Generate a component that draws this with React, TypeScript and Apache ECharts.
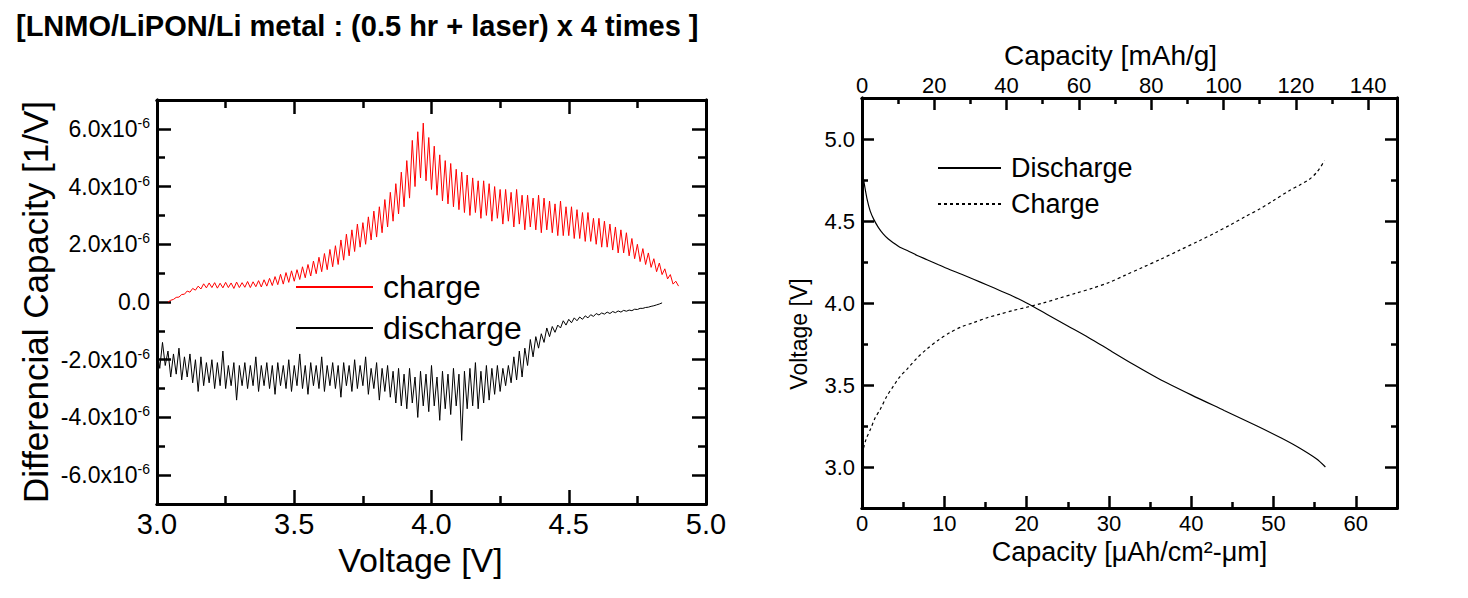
import React, { useEffect, useRef } from "react";
import * as echarts from "echarts";

// ---------- Left chart: differential capacity (values in units of 1e-6 1/V) ----------
const chargeV0 = 3.04;
const dischargeV0 = 3.0;
const dvStep = 0.01;
const chargeDQ = [
  0.00, 0.06, 0.09, 0.16, 0.17, 0.26, 0.27, 0.38, 0.34, 0.47,
  0.41, 0.55, 0.45, 0.63, 0.49, 0.66, 0.50, 0.67, 0.48, 0.65,
  0.49, 0.68, 0.50, 0.66, 0.47, 0.69, 0.50, 0.67, 0.51, 0.71,
  0.50, 0.70, 0.53, 0.74, 0.52, 0.77, 0.55, 0.82, 0.57, 0.88,
  0.60, 0.96, 0.62, 1.02, 0.68, 1.08, 0.72, 1.12, 0.78, 1.22,
  0.84, 1.30, 0.90, 1.42, 0.98, 1.55, 1.05, 1.68, 1.12, 1.82,
  1.22, 1.95, 1.30, 2.15, 1.45, 2.35, 1.60, 2.50, 1.75, 2.70,
  1.90, 2.75, 2.00, 2.95, 2.15, 3.15, 2.25, 3.30, 2.40, 3.55,
  2.60, 3.80, 2.80, 4.10, 3.05, 4.50, 3.30, 4.90, 3.60, 5.60,
  4.00, 5.90, 4.30, 6.20, 4.20, 5.70, 3.90, 5.40, 3.70, 5.10,
  3.50, 4.90, 3.40, 4.80, 3.30, 4.60, 3.20, 4.50, 3.10, 4.40,
  3.00, 4.30, 3.10, 4.20, 2.90, 4.20, 3.00, 4.10, 2.80, 4.00,
  2.90, 3.90, 2.70, 3.90, 2.80, 3.80, 2.60, 3.90, 2.70, 3.70,
  2.50, 3.70, 2.60, 3.60, 2.50, 3.70, 2.40, 3.60, 2.50, 3.50,
  2.40, 3.40, 2.30, 3.50, 2.30, 3.30, 2.30, 3.30, 2.20, 3.20,
  2.20, 3.10, 2.10, 3.10, 2.10, 2.90, 2.00, 2.90, 1.90, 2.80,
  1.90, 2.70, 1.80, 2.60, 1.70, 2.50, 1.70, 2.40, 1.60, 2.20,
  1.50, 2.00, 1.40, 1.85, 1.30, 1.70, 1.20, 1.50, 1.05, 1.35,
  0.95, 1.15, 0.80, 0.95, 0.62, 0.72, 0.55,
];
const dischargeDQ = [
  -1.60, -2.30, -1.40, -2.20, -1.70, -2.60, -1.80, -2.50, -1.60, -2.70,
  -1.90, -2.60, -1.80, -2.80, -2.00, -3.10, -1.90, -2.90, -2.10, -2.80,
  -2.00, -3.00, -2.10, -2.90, -1.70, -3.00, -2.20, -2.90, -2.10, -3.40,
  -2.20, -2.90, -2.10, -3.00, -2.20, -2.90, -1.90, -3.10, -2.20, -2.90,
  -2.10, -3.00, -2.20, -3.20, -2.10, -2.90, -2.20, -3.00, -2.00, -3.10,
  -2.20, -2.90, -1.80, -3.00, -2.20, -3.20, -2.10, -2.90, -2.20, -3.00,
  -1.90, -3.10, -2.20, -2.90, -2.10, -3.00, -2.20, -3.30, -2.10, -2.90,
  -2.20, -3.10, -2.00, -3.00, -2.20, -2.90, -1.90, -3.20, -2.30, -3.00,
  -2.10, -3.40, -2.30, -3.10, -2.20, -3.30, -2.40, -3.50, -2.30, -3.60,
  -2.50, -3.70, -2.30, -3.50, -2.60, -4.00, -2.40, -3.60, -2.50, -3.80,
  -2.20, -3.60, -2.60, -4.10, -2.40, -3.70, -2.50, -3.90, -2.30, -3.60,
  -2.50, -4.80, -2.40, -3.70, -2.30, -3.60, -2.10, -3.70, -2.40, -3.50,
  -2.20, -3.40, -2.30, -3.20, -2.20, -3.10, -2.30, -2.90, -2.20, -2.80,
  -1.90, -2.70, -1.70, -2.60, -1.60, -2.20, -1.30, -1.90, -1.20, -1.60,
  -1.10, -1.40, -0.90, -1.20, -0.85, -1.05, -0.80, -0.90, -0.65, -0.80,
  -0.60, -0.72, -0.55, -0.65, -0.52, -0.60, -0.48, -0.55, -0.44, -0.50,
  -0.40, -0.45, -0.38, -0.42, -0.35, -0.40, -0.33, -0.37, -0.31, -0.35,
  -0.29, -0.32, -0.28, -0.30, -0.25, -0.26, -0.22, -0.22, -0.19, -0.18,
  -0.15, -0.13, -0.10, -0.07, -0.03,
];
const leftXTicks = [3.0, 3.5, 4.0, 4.5, 5.0];
const leftXMinor = [3.25, 3.75, 4.25, 4.75];
const leftYTicks = [-6, -4, -2, 0, 2, 4, 6];
const leftYMinor = [-5, -3, -1, 1, 3, 5];

// ---------- Right chart: voltage profile ----------
const dischargeCap = [0, 0.3, 0.63, 1.0, 1.43, 2.0, 2.6, 3.2, 3.85, 4.6, 5.5, 6.7, 7.9, 9.3, 10.7, 12.1, 13.55, 15.2, 16.8, 18.4, 20.0, 22.5, 25, 27.5, 30, 33, 36, 40, 44, 48, 51, 53, 55.2, 56.3];
const dischargeV = [4.81, 4.72, 4.63, 4.56, 4.51, 4.46, 4.42, 4.39, 4.366, 4.34, 4.32, 4.29, 4.264, 4.233, 4.203, 4.175, 4.145, 4.11, 4.075, 4.04, 4.0, 3.93, 3.86, 3.79, 3.715, 3.625, 3.54, 3.44, 3.345, 3.25, 3.175, 3.12, 3.05, 3.0];
const chargeCap = [0, 0.5, 1.03, 1.6, 2.24, 3.0, 3.85, 4.6, 5.5, 6.7, 7.9, 9.3, 10.7, 12.1, 13.55, 15.2, 16.8, 18.4, 20.0, 22, 24, 26, 28, 30, 32, 34, 36.2, 38.5, 41.0, 43, 44.7, 46.5, 48.3, 50, 51.9, 53.2, 54.4, 55.3, 56.2];
const chargeV = [3.08, 3.17, 3.23, 3.3, 3.354, 3.43, 3.496, 3.55, 3.598, 3.665, 3.72, 3.775, 3.82, 3.855, 3.88, 3.91, 3.933, 3.955, 3.974, 4.0, 4.03, 4.06, 4.09, 4.125, 4.17, 4.215, 4.265, 4.32, 4.38, 4.43, 4.475, 4.525, 4.573, 4.625, 4.685, 4.72, 4.756, 4.8, 4.868];
const rightXTicks = [0, 10, 20, 30, 40, 50, 60];
const rightXMinor = [5, 15, 25, 35, 45, 55];
const topXTicks = [0, 20, 40, 60, 80, 100, 120, 140];
const topXMinor = [10, 30, 50, 70, 90, 110, 130];
const rightYTicks = [3.0, 3.5, 4.0, 4.5, 5.0];
const rightYMinor = [3.25, 3.75, 4.25, 4.75];

const FONT = "'Liberation Sans', Arial, sans-serif";

function axis(
  gridIndex: number,
  position: string,
  min: number,
  max: number,
  ticks: number[],
  len: number,
  label: any
) {
  return {
    type: "value",
    gridIndex,
    position,
    min,
    max,
    axisLine: { show: true, onZero: false, lineStyle: { color: "#000", width: 3 } },
    axisTick: { show: true, inside: true, length: len, customValues: ticks, lineStyle: { color: "#000", width: 2.5 } },
    axisLabel: label ? { ...label, customValues: ticks } : { show: false },
    splitLine: { show: false },
    axisPointer: { show: false },
  };
}

export default function App() {
  const ref = useRef<HTMLDivElement>(null);
  useEffect(() => {
    const chart = echarts.init(ref.current!, null, { renderer: "svg" });
    const round2 = (x: number) => Math.round(x * 100) / 100;
    const chargeData = chargeDQ.map((y, i) => [round2(chargeV0 + i * dvStep), y]);
    const dischargeData = dischargeDQ.map((y, i) => [round2(dischargeV0 + i * dvStep), y]);
    const dischargeCurve = dischargeCap.map((c, i) => [c, dischargeV[i]]);
    const chargeCurve = chargeCap.map((c, i) => [c, chargeV[i]]);

    const leftYLabel = {
      margin: 7,
      formatter: (v: number) => (v === 0 ? "{b|0.0}" : `{b|${v.toFixed(1)}x10}{s|-6}`),
      rich: {
        b: { fontSize: 23, fontFamily: FONT, color: "#000", lineHeight: 26 },
        s: { fontSize: 14, fontFamily: FONT, color: "#000", lineHeight: 14, verticalAlign: "top" },
      },
    };
    const leftXLabel = { margin: 5, fontSize: 29, fontFamily: FONT, color: "#000", formatter: (v: number) => v.toFixed(1) };
    const rightXLabel = { margin: 4, fontSize: 22, fontFamily: FONT, color: "#000", formatter: (v: number) => String(v) };
    const topXLabel = { margin: 2, fontSize: 22, fontFamily: FONT, color: "#000", formatter: (v: number) => String(v) };
    const rightYLabel = { margin: 7, fontSize: 22, fontFamily: FONT, color: "#000", formatter: (v: number) => v.toFixed(1) };

    const xAxes: any[] = [
      {
        ...axis(0, "bottom", 3, 5, leftXTicks, 14, leftXLabel),
        name: "Voltage [V]",
        nameLocation: "middle",
        nameGap: 34,
        nameTextStyle: { fontSize: 34, fontFamily: FONT, color: "#000", padding: [0, 22, 0, 0] },
      },
      axis(0, "bottom", 3, 5, leftXMinor, 8, null),
      axis(0, "top", 3, 5, leftXTicks, 14, null),
      axis(0, "top", 3, 5, leftXMinor, 8, null),
      {
        ...axis(1, "bottom", 0, 65, rightXTicks, 12, rightXLabel),
        name: "Capacity [μAh/cm²-μm]",
        nameLocation: "middle",
        nameGap: 25,
        nameTextStyle: { fontSize: 27, fontFamily: FONT, color: "#000" },
      },
      axis(1, "bottom", 0, 65, rightXMinor, 6, null),
      {
        ...axis(1, "top", 0, 148, topXTicks, 12, topXLabel),
        name: "Capacity [mAh/g]",
        nameLocation: "middle",
        nameGap: 18,
        nameTextStyle: { fontSize: 28, fontFamily: FONT, color: "#000", padding: [0, 38, 0, 0] },
      },
      axis(1, "top", 0, 148, topXMinor, 6, null),
    ];
    const yAxes: any[] = [
      {
        ...axis(0, "left", -7, 7, leftYTicks, 14, leftYLabel),
        name: "Differencial Capacity [1/V]",
        nameLocation: "middle",
        nameGap: 104,
        nameTextStyle: { fontSize: 35, fontFamily: FONT, color: "#000" },
      },
      axis(0, "left", -7, 7, leftYMinor, 8, null),
      axis(0, "right", -7, 7, leftYTicks, 14, null),
      axis(0, "right", -7, 7, leftYMinor, 8, null),
      {
        ...axis(1, "left", 2.75, 5.25, rightYTicks, 12, rightYLabel),
        name: "Voltage [V]",
        nameLocation: "middle",
        nameGap: 52,
        nameTextStyle: { fontSize: 23, fontFamily: FONT, color: "#000", padding: [0, 62, 0, 0] },
      },
      axis(1, "left", 2.75, 5.25, rightYMinor, 6, null),
      axis(1, "right", 2.75, 5.25, rightYTicks, 12, null),
      axis(1, "right", 2.75, 5.25, rightYMinor, 6, null),
    ];

    chart.setOption({
      animation: false,
      backgroundColor: "#fff",
      textStyle: { fontFamily: FONT },
      title: {
        text: "[LNMO/LiPON/Li metal : (0.5 hr + laser) x 4 times ]",
        left: 16,
        top: 11,
        padding: 0,
        textStyle: { fontSize: 29, fontWeight: "bold", fontFamily: FONT, color: "#000" },
      },
      grid: [
        { left: 157, top: 100, width: 549, height: 404 },
        { left: 862, top: 98, width: 535, height: 410 },
      ],
      xAxis: xAxes,
      yAxis: yAxes,
      legend: [
        {
          data: ["charge", "discharge"],
          orient: "vertical",
          left: 295,
          top: 271,
          padding: 0,
          itemWidth: 77,
          itemHeight: 14,
          itemGap: 9,
          selectedMode: false,
          itemStyle: { opacity: 0 },
          textStyle: { fontSize: 32, fontFamily: FONT, color: "#000", lineHeight: 32, padding: [0, 0, 0, 5] },
        },
        {
          data: ["Discharge", "Charge"],
          orient: "vertical",
          left: 937,
          top: 154,
          padding: 0,
          itemWidth: 63,
          itemHeight: 14,
          itemGap: 8,
          selectedMode: false,
          itemStyle: { opacity: 0 },
          textStyle: { fontSize: 27, fontFamily: FONT, color: "#000", lineHeight: 28, padding: [0, 0, 0, 5] },
        },
      ],
      series: [
        {
          name: "charge",
          type: "line",
          xAxisIndex: 0,
          yAxisIndex: 0,
          data: chargeData,
          showSymbol: false,
          symbol: "none",
          lineStyle: { color: "#ff0000", width: 1 },
          itemStyle: { color: "#ff0000" },
        },
        {
          name: "discharge",
          type: "line",
          xAxisIndex: 0,
          yAxisIndex: 0,
          data: dischargeData,
          showSymbol: false,
          symbol: "none",
          lineStyle: { color: "#000", width: 1 },
          itemStyle: { color: "#000" },
        },
        {
          name: "Discharge",
          type: "line",
          xAxisIndex: 4,
          yAxisIndex: 4,
          data: dischargeCurve,
          showSymbol: false,
          symbol: "none",
          smooth: 0.3,
          lineStyle: { color: "#000", width: 1.2 },
          itemStyle: { color: "#000" },
        },
        {
          name: "Charge",
          type: "line",
          xAxisIndex: 4,
          yAxisIndex: 4,
          data: chargeCurve,
          showSymbol: false,
          symbol: "none",
          smooth: 0.3,
          lineStyle: { color: "#000", width: 1.2, type: [3, 3] },
          itemStyle: { color: "#000" },
        },
      ],
    });
    return () => chart.dispose();
  }, []);
  return (
    <div
      ref={ref}
      style={{ position: "fixed", left: 0, top: 0, width: 1468, height: 598, background: "#fff" }}
    />
  );
}
